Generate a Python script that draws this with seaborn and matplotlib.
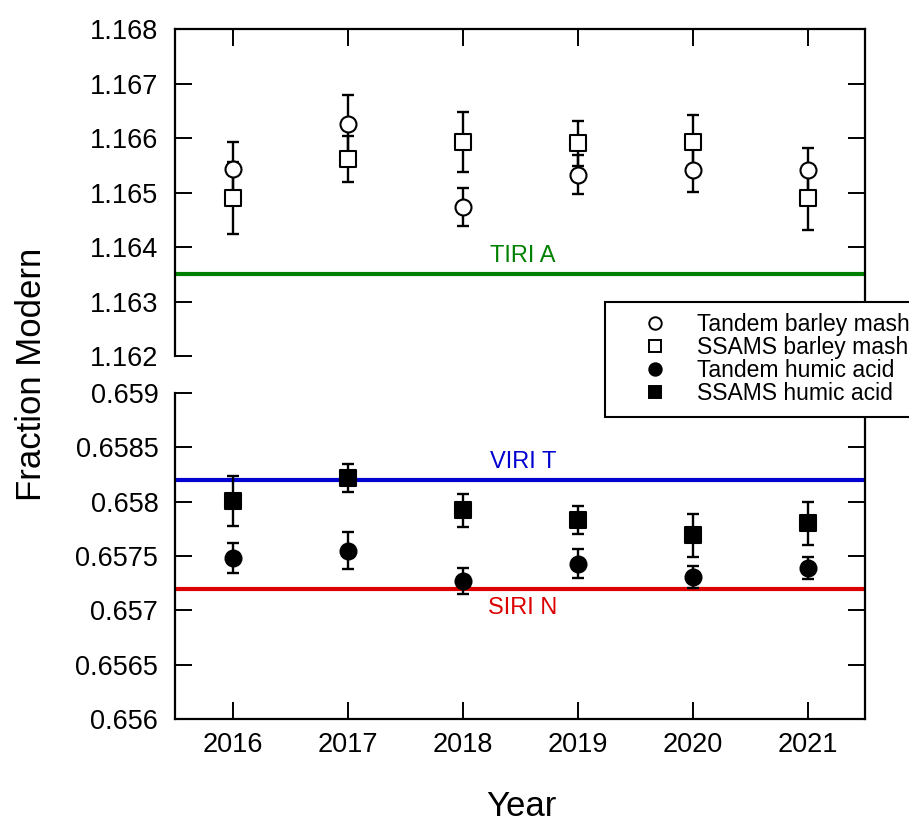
import numpy as np
import pandas as pd
import seaborn as sns
import matplotlib.pyplot as plt
from matplotlib.lines import Line2D
from matplotlib.ticker import MultipleLocator, FuncFormatter

# data
years = [2016, 2017, 2018, 2019, 2020, 2021]

tandem_barley = [1.16543, 1.16625, 1.16474, 1.16533, 1.16541, 1.16541]
tandem_barley_err = [0.00050, 0.00053, 0.00035, 0.00036, 0.00040, 0.00041]
ssams_barley = [1.16490, 1.16561, 1.16593, 1.16590, 1.16593, 1.16490]
ssams_barley_err = [0.00066, 0.00042, 0.00055, 0.00041, 0.00049, 0.00059]

tandem_humic = [0.65748, 0.65755, 0.65727, 0.65743, 0.65731, 0.65739]
tandem_humic_err = [0.00014, 0.00017, 0.00012, 0.00013, 0.00010, 0.00010]
ssams_humic = [0.65801, 0.65822, 0.65792, 0.65783, 0.65769, 0.65780]
ssams_humic_err = [0.00023, 0.00013, 0.00015, 0.00013, 0.00020, 0.00020]

ref_names = ["TIRI A", "VIRI T", "SIRI N"]
ref_values = [1.1635, 0.6582, 0.6572]
ref_colors = ["#008000", "#0000d0", "#dd0000"]

series_labels = ["Tandem barley mash", "SSAMS barley mash",
                 "Tandem humic acid", "SSAMS humic acid"]

sns.set_theme(style="ticks")
plt.rcParams['font.family'] = ['Liberation Sans', 'DejaVu Sans']
plt.rcParams.update({"text.color": "black", "axes.labelcolor": "black",
                     "xtick.color": "black", "ytick.color": "black"})

fig = plt.figure(figsize=(9.09, 8.22), dpi=100)
W, H = 909, 822
ax_top = fig.add_axes([175 / W, 1 - 356 / H, 690 / W, 327 / H])
ax_bot = fig.add_axes([175 / W, 1 - 719 / H, 690 / W, 326 / H])

MS = 11.5


def draw_series(ax, y, err, marker, face):
    df = pd.DataFrame({"Year": years, "FM": y})
    ax.errorbar(df["Year"], df["FM"], yerr=err, fmt="none", ecolor="black",
                elinewidth=1.7, capsize=4, capthick=1.7, zorder=2)
    sns.scatterplot(data=df, x="Year", y="FM", ax=ax, marker=marker, s=MS ** 2,
                    facecolor=face, edgecolor="black", linewidth=1.5, zorder=3,
                    legend=False)


# reference lines
for ax, name, val, col, where in [(ax_top, ref_names[0], ref_values[0], ref_colors[0], "above"),
                                  (ax_bot, ref_names[1], ref_values[1], ref_colors[1], "above"),
                                  (ax_bot, ref_names[2], ref_values[2], ref_colors[2], "below")]:
    ax.axhline(val, color=col, lw=3, zorder=1)
    dy = 8.5 if where == "above" else -18
    ax.annotate(name, xy=(0.5, val), xycoords=ax.get_yaxis_transform(),
                xytext=(2, dy), textcoords="offset points", ha="center",
                va="baseline", color=col, fontsize=17)

draw_series(ax_top, tandem_barley, tandem_barley_err, "o", "white")
draw_series(ax_top, ssams_barley, ssams_barley_err, "s", "white")
draw_series(ax_bot, tandem_humic, tandem_humic_err, "o", "black")
draw_series(ax_bot, ssams_humic, ssams_humic_err, "s", "black")

fmt = FuncFormatter(lambda v, p: "{:g}".format(round(v, 6)))

ax_top.set_ylim(1.162, 1.168)
ax_top.yaxis.set_major_locator(MultipleLocator(0.001))
ax_bot.set_ylim(0.656, 0.659)
ax_bot.yaxis.set_major_locator(MultipleLocator(0.0005))

for ax in (ax_top, ax_bot):
    ax.set_xlim(2015.5, 2021.5)
    ax.set_xticks(years)
    ax.yaxis.set_major_formatter(fmt)
    ax.set_xlabel("")
    ax.set_ylabel("")
    for s in ax.spines.values():
        s.set_linewidth(1.6)
        s.set_color("black")
    ax.tick_params(axis="both", direction="in", length=12, width=1.4,
                   colors="black", labelsize=19.5, right=True)
    ax.tick_params(axis="y", pad=12)
    ax.tick_params(axis="x", pad=9)

ax_top.spines["bottom"].set_visible(False)
ax_top.tick_params(axis="x", bottom=False, labelbottom=False, top=True)
ax_bot.spines["top"].set_visible(False)
ax_bot.tick_params(axis="x", top=False)
ax_bot.set_xticklabels([str(y) for y in years])

fig.text(32 / W, 1 - 374 / H, "Fraction Modern", rotation=90, ha="center",
         va="center", fontsize=25)
fig.text(521 / W, 1 - 806 / H, "Year", ha="center", va="center", fontsize=25)

# legend
handles = [
    Line2D([], [], ls="none", marker="o", ms=MS * 0.78, mfc="white", mec="black", mew=1.4),
    Line2D([], [], ls="none", marker="s", ms=MS * 0.78, mfc="white", mec="black", mew=1.4),
    Line2D([], [], ls="none", marker="o", ms=MS * 0.78, mfc="black", mec="black", mew=1.4),
    Line2D([], [], ls="none", marker="s", ms=MS * 0.78, mfc="black", mec="black", mew=1.4),
]
leg = fig.legend(handles, series_labels, loc="upper left",
                 bbox_to_anchor=(605 / W, 1 - 302 / H), borderaxespad=0,
                 fontsize=16.5, frameon=True, fancybox=False, framealpha=1,
                 edgecolor="black", handlelength=3.4, handletextpad=0.1,
                 labelspacing=0.0, borderpad=0.5)
leg.get_frame().set_linewidth(1.5)

fig.savefig("out.png", dpi=100)
